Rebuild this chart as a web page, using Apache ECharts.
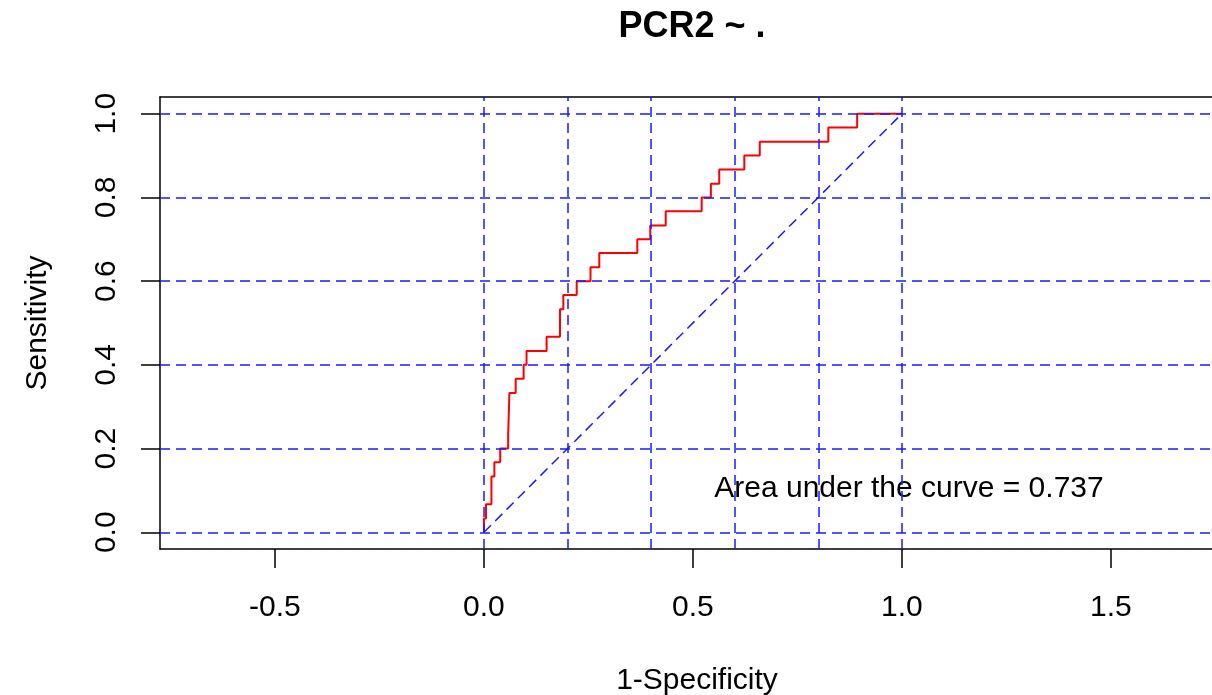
<!DOCTYPE html>
<html>
<head>
<meta charset="utf-8">
<script src="https://cdn.jsdelivr.net/npm/echarts@6/dist/echarts.min.js"></script>
<style>
  html, body { margin: 0; background: #fff; }
  #chart { width: 1212px; height: 695px; }
</style>
</head>
<body>
<div id="chart"></div>
<script>
// ROC curve points (top of each step)
const fpr = [0, 0, 0.005, 0.018, 0.025, 0.039, 0.058, 0.061, 0.076, 0.095, 0.102, 0.15, 0.182, 0.19,
  0.222, 0.255, 0.276, 0.367, 0.398, 0.435, 0.521, 0.543, 0.563, 0.623, 0.66, 0.824, 0.893, 1.0]
const tpr = [0, 0.033, 0.067, 0.133, 0.167, 0.2, 0.233, 0.333, 0.367, 0.4, 0.433, 0.467, 0.533, 0.567,
  0.6, 0.633, 0.667, 0.7, 0.733, 0.767, 0.8, 0.833, 0.867, 0.9, 0.933, 0.967, 1.0, 1.0]
const xTicks = [-0.5, 0, 0.5, 1, 1.5]
const yTicks = [0, 0.2, 0.4, 0.6, 0.8, 1]
const gridLines = [0, 0.2, 0.4, 0.6, 0.8, 1]
const aucLabel = "Area under the curve = 0.737"
const aucPos = [1.017, 0.105]

const font = "'Liberation Sans', Arial, sans-serif"
const blue = "#1a1aff"
const axisColor = "#000"

const chart = echarts.init(document.getElementById("chart"))

const option = {
  animation: false,
  title: {
    text: "PCR2 ~ .",
    left: 687,
    top: 4,
    textAlign: "center",
    textStyle: { fontFamily: font, fontSize: 36, fontWeight: "bold", color: "#000" },
  },
  grid: {
    left: 160,
    right: 0,
    top: 97,
    bottom: 146,
    outerBoundsMode: "none",
  },
  xAxis: [
    {
      type: "value",
      min: -0.775,
      max: 1.742,
      name: "1-Specificity",
      nameLocation: "middle",
      nameGap: 117,
      nameTextStyle: { fontFamily: font, fontSize: 30, color: "#000", padding: [0, 0, 0, 22] },
      axisLine: { show: true, onZero: false, lineStyle: { color: axisColor, width: 1.5 } },
      axisTick: { show: true, length: 19, customValues: xTicks, lineStyle: { color: axisColor, width: 1.5 } },
      axisLabel: {
        customValues: xTicks,
        margin: 44,
        fontFamily: font,
        fontSize: 30,
        color: "#000",
        formatter: (v) => v.toFixed(1),
      },
      splitLine: { show: false },
    },
    {
      // top edge of the plot box
      type: "value",
      position: "top",
      min: -0.775,
      max: 1.742,
      axisLine: { show: true, onZero: false, lineStyle: { color: axisColor, width: 1.5 } },
      axisTick: { show: false },
      axisLabel: { show: false },
      splitLine: { show: false },
    },
  ],
  yAxis: {
    type: "value",
    min: -0.04,
    max: 1.04,
    name: "Sensitivity",
    nameLocation: "middle",
    nameGap: 107,
    nameTextStyle: { fontFamily: font, fontSize: 30, color: "#000" },
    axisLine: { show: true, onZero: false, lineStyle: { color: axisColor, width: 1.5 } },
    axisTick: { show: true, length: 19, customValues: yTicks, lineStyle: { color: axisColor, width: 1.5 } },
    axisLabel: {
      customValues: yTicks,
      rotate: 90,
      margin: 38,
      fontFamily: font,
      fontSize: 30,
      color: "#000",
      formatter: (v) => v.toFixed(1),
    },
    splitLine: { show: false },
  },
  series: [
    {
      type: "line",
      step: "end",
      symbol: "none",
      data: fpr.map((x, i) => [x, tpr[i]]),
      lineStyle: { color: "#ff0000", width: 2 },
      z: 2,
    },
    {
      // diagonal chance line + dashed reference grid
      type: "line",
      symbol: "none",
      data: [[0, 0], [1, 1]],
      lineStyle: { color: blue, width: 1.5, type: [10, 6] },
      z: 3,
      markLine: {
        silent: true,
        symbol: "none",
        label: { show: false },
        lineStyle: { color: blue, width: 1.5, type: [10, 6] },
        data: gridLines.map((v) => ({ xAxis: v })).concat(gridLines.map((v) => ({ yAxis: v }))),
      },
    },
    {
      type: "scatter",
      symbolSize: 0,
      itemStyle: { opacity: 1 },
      data: [aucPos],
      label: {
        show: true,
        position: "inside",
        formatter: aucLabel,
        fontFamily: font,
        fontSize: 30,
        color: "#000",
        opacity: 1,
      },
      z: 4,
    },
  ],
}

chart.setOption(option)
</script>
</body>
</html>
